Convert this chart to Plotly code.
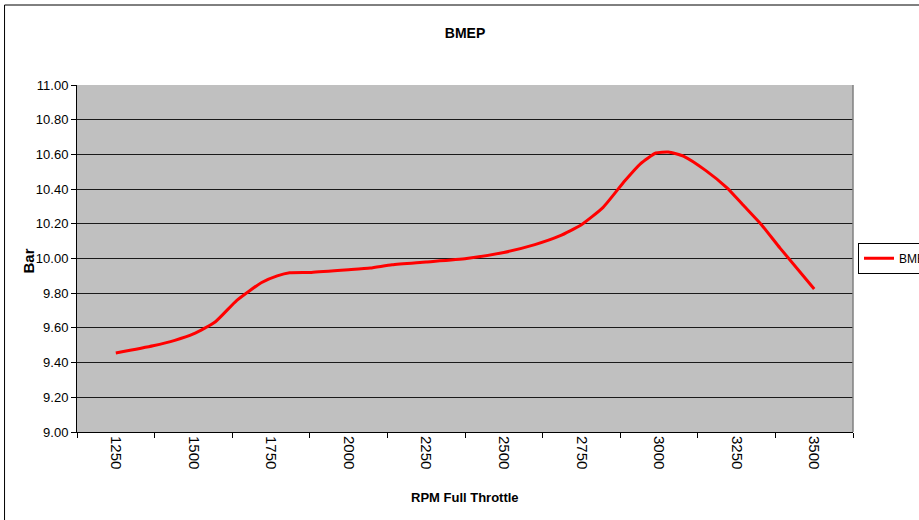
import plotly.graph_objects as go

rpm = [1250, 1370, 1440, 1500, 1570, 1640, 1720, 1770, 1810, 1880, 2000, 2070, 2140, 2250,
       2380, 2500, 2600, 2680, 2750, 2820, 2890, 2940, 2990, 3030, 3080, 3150, 3220, 3270,
       3330, 3390, 3500]
bmep = [9.455, 9.497, 9.528, 9.565, 9.634, 9.759, 9.862, 9.900, 9.918, 9.920, 9.935, 9.945,
        9.964, 9.980, 10.000, 10.035, 10.080, 10.130, 10.195, 10.295, 10.448, 10.546, 10.608,
        10.614, 10.589, 10.508, 10.406, 10.310, 10.195, 10.060, 9.824]

x_labels = [1250, 1500, 1750, 2000, 2250, 2500, 2750, 3000, 3250, 3500]
y_ticks = [9.0, 9.2, 9.4, 9.6, 9.8, 10.0, 10.2, 10.4, 10.6, 10.8, 11.0]

FONT = "Liberation Sans, Arial, sans-serif"

fig = go.Figure()
fig.add_trace(go.Scatter(
    x=rpm, y=bmep, mode="lines", name="BMEP",
    line=dict(color="#FF0000", width=3, shape="spline", smoothing=0.5),
))

fig.update_layout(
    width=919, height=520,
    margin=dict(l=76.5, r=66, t=85, b=88, autoexpand=False),
    paper_bgcolor="white",
    plot_bgcolor="#C0C0C0",
    font=dict(family=FONT, color="black", size=13),
    title=dict(text="<b>BMEP</b>", x=0.5, xref="paper", y=1 - 33 / 520, yref="container",
               xanchor="center", yanchor="middle", font=dict(family=FONT, size=14, color="black")),
    showlegend=True,
    legend=dict(x=858 / 919, xref="container", xanchor="left", y=0.501, yanchor="middle",
                bgcolor="white", bordercolor="#000000", borderwidth=1,
                font=dict(family=FONT, size=12, color="black"),
                itemwidth=30, tracegroupgap=0),
    xaxis=dict(
        range=[1125, 3625], tickmode="array", tickvals=x_labels,
        ticktext=[str(v) for v in x_labels], tickangle=90,
        ticks="", showgrid=False, zeroline=False,
        showline=True, linecolor="black", linewidth=1,
        tickfont=dict(family=FONT, size=15, color="black"),
        minor=dict(ticks="outside", tick0=1125, dtick=250, ticklen=5,
                   tickcolor="black", tickwidth=1, showgrid=False),
        automargin=False,
    ),
    yaxis=dict(
        range=[9, 11], tickmode="array", tickvals=y_ticks,
        ticktext=[f"{v:.2f}" for v in y_ticks],
        ticks="outside", ticklen=5, tickcolor="black",
        showgrid=True, gridcolor="#1a1a1a", gridwidth=1, zeroline=False,
        showline=True, linecolor="black", linewidth=1,
        tickfont=dict(family=FONT, size=13, color="black"),
        automargin=False,
    ),
    annotations=[
        dict(text="<b>RPM Full Throttle</b>", x=0.5, y=(432 - 497) / 347,
             xref="paper", yref="paper", xanchor="center", yanchor="middle",
             showarrow=False, font=dict(family=FONT, size=13, color="black")),
        dict(text="<b>Bar</b>", x=(27 - 76.5) / 776.5, y=(432 - 261) / 347,
             xref="paper", yref="paper", xanchor="center", yanchor="middle",
             textangle=-90, showarrow=False, font=dict(family=FONT, size=15, color="black")),
    ],
    shapes=[
        # outer chart border (clipped on the right/bottom like the reference)
        dict(type="rect", xref="paper", yref="paper",
             x0=(4 - 76.5) / 776.5, x1=(930 - 76.5) / 776.5,
             y0=(432 - 530) / 347, y1=(432 - 5) / 347,
             line=dict(color="black", width=1), fillcolor="rgba(0,0,0,0)", layer="below"),
        # grey right edge of plot area
        dict(type="line", xref="paper", yref="paper", x0=1, x1=1, y0=0, y1=1,
             line=dict(color="#808080", width=1.5), layer="above"),
    ],
)

fig.write_html("out.html",
               config={"displayModeBar": False},
               post_script="document.body.style.margin='0';document.body.style.overflow='hidden';")
